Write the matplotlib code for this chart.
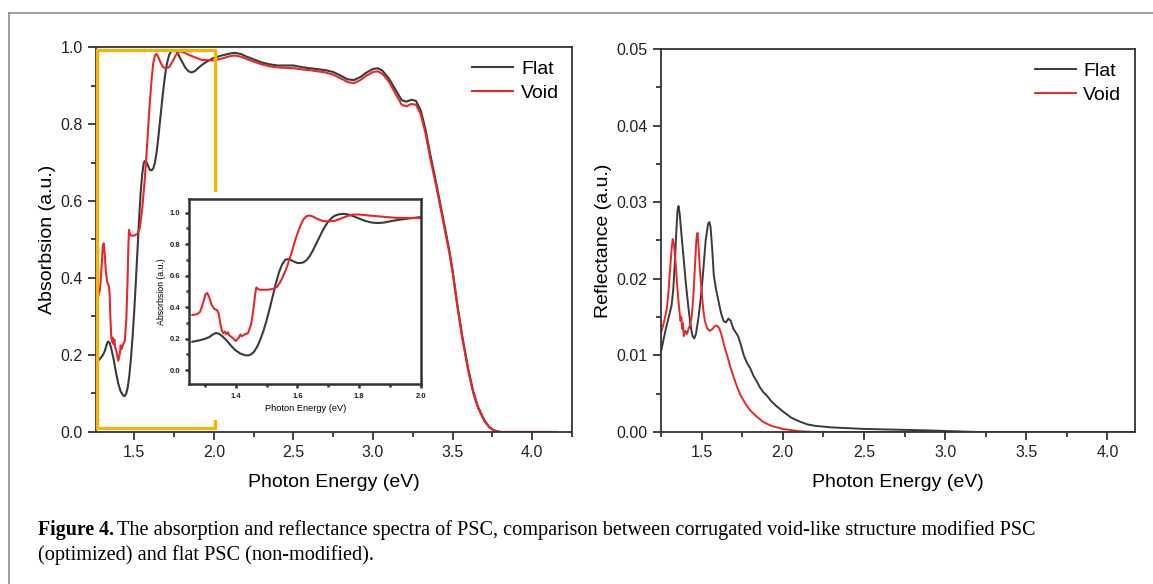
import matplotlib
matplotlib.use("Agg")
import matplotlib.pyplot as plt
from matplotlib.ticker import MultipleLocator
from matplotlib.patches import Rectangle
from matplotlib.lines import Line2D

plt.rcParams['font.family'] = ['Liberation Sans', 'DejaVu Sans']

# ---- 吸收谱 (Absorption) ----
abs_e_flat = [1.26, 1.28, 1.30, 1.315, 1.325, 1.335, 1.345, 1.355, 1.37, 1.385, 1.40, 1.415, 1.43,
              1.44, 1.45, 1.46, 1.47, 1.48, 1.49, 1.50, 1.51, 1.52, 1.53, 1.54, 1.55, 1.56, 1.57,
              1.58, 1.59, 1.60, 1.61, 1.62, 1.63, 1.64, 1.65, 1.66, 1.67, 1.68, 1.69, 1.70, 1.71,
              1.72, 1.735, 1.75, 1.765, 1.78, 1.80, 1.82, 1.84, 1.86, 1.88, 1.90, 1.93, 1.96, 2.0,
              2.05, 2.1, 2.13, 2.17, 2.2, 2.25, 2.3, 2.35, 2.4, 2.5, 2.55, 2.6, 2.7, 2.75, 2.8,
              2.84, 2.88, 2.92, 2.96, 3.0, 3.03, 3.06, 3.1, 3.14, 3.18, 3.21, 3.24, 3.27, 3.30,
              3.33, 3.36, 3.40, 3.45, 3.48, 3.5, 3.53, 3.56, 3.6, 3.63, 3.66, 3.7, 3.73, 3.76,
              3.8, 4.15]
abs_flat = [0.18, 0.188, 0.198, 0.21, 0.225, 0.235, 0.232, 0.218, 0.19, 0.155, 0.125, 0.105, 0.095,
            0.093, 0.1, 0.118, 0.15, 0.195, 0.25, 0.315, 0.39, 0.47, 0.55, 0.62, 0.67, 0.70, 0.705,
            0.698, 0.688, 0.68, 0.68, 0.685, 0.70, 0.725, 0.76, 0.80, 0.84, 0.88, 0.915, 0.945,
            0.965, 0.98, 0.99, 0.992, 0.988, 0.978, 0.962, 0.947, 0.937, 0.934, 0.937, 0.945,
            0.955, 0.963, 0.972, 0.978, 0.983, 0.985, 0.982, 0.976, 0.968, 0.96, 0.955, 0.952,
            0.952, 0.948, 0.945, 0.94, 0.935, 0.925, 0.916, 0.914, 0.922, 0.934, 0.943, 0.945,
            0.938, 0.918, 0.89, 0.862, 0.858, 0.863, 0.86, 0.835, 0.785, 0.72, 0.64, 0.535, 0.47,
            0.42, 0.33, 0.25, 0.16, 0.105, 0.065, 0.03, 0.013, 0.004, 0.0, 0.0]

abs_e_void = [1.26, 1.275, 1.285, 1.295, 1.302, 1.308, 1.315, 1.322, 1.33, 1.34, 1.345, 1.35, 1.355,
              1.36, 1.365, 1.37, 1.375, 1.38, 1.39, 1.40, 1.41, 1.415, 1.42, 1.43, 1.44, 1.45,
              1.457, 1.463, 1.467, 1.472, 1.48, 1.50, 1.52, 1.535, 1.55, 1.565, 1.58, 1.595, 1.61,
              1.62, 1.63, 1.64, 1.65, 1.665, 1.68, 1.70, 1.72, 1.74, 1.76, 1.78, 1.80, 1.83, 1.87,
              1.92, 2.0, 2.05, 2.1, 2.13, 2.17, 2.2, 2.25, 2.3, 2.35, 2.4, 2.5, 2.55, 2.6, 2.7,
              2.75, 2.8, 2.84, 2.88, 2.92, 2.96, 3.0, 3.03, 3.06, 3.1, 3.14, 3.18, 3.21, 3.24,
              3.27, 3.30, 3.33, 3.36, 3.40, 3.45, 3.48, 3.5, 3.53, 3.56, 3.6, 3.63, 3.66, 3.7,
              3.73, 3.76, 3.8, 4.15]
abs_void = [0.35, 0.355, 0.37, 0.43, 0.48, 0.49, 0.46, 0.415, 0.39, 0.38, 0.36, 0.30, 0.25, 0.235,
            0.245, 0.228, 0.24, 0.22, 0.205, 0.185, 0.205, 0.225, 0.215, 0.228, 0.235, 0.29, 0.38,
            0.48, 0.525, 0.515, 0.51, 0.51, 0.515, 0.53, 0.58, 0.65, 0.74, 0.84, 0.92, 0.96,
            0.978, 0.982, 0.975, 0.96, 0.948, 0.944, 0.948, 0.962, 0.978, 0.988, 0.988, 0.982,
            0.975, 0.967, 0.965, 0.97, 0.976, 0.978, 0.975, 0.97, 0.962, 0.955, 0.95, 0.947,
            0.945, 0.942, 0.94, 0.934, 0.928, 0.918, 0.909, 0.906, 0.914, 0.926, 0.935, 0.937,
            0.93, 0.91, 0.88, 0.85, 0.846, 0.852, 0.85, 0.825, 0.775, 0.71, 0.632, 0.527, 0.463,
            0.413, 0.325, 0.245, 0.155, 0.1, 0.062, 0.028, 0.012, 0.004, 0.0, 0.0]

# ---- 反射谱 (Reflectance) ----
ref_e_flat = [1.25, 1.26, 1.28, 1.30, 1.315, 1.325, 1.335, 1.345, 1.352, 1.358, 1.365, 1.375, 1.39,
              1.405, 1.42, 1.435, 1.445, 1.455, 1.465, 1.48, 1.495, 1.51, 1.525, 1.54, 1.548,
              1.555, 1.565, 1.575, 1.59, 1.605, 1.62, 1.635, 1.65, 1.665, 1.68, 1.695, 1.71, 1.725,
              1.74, 1.76, 1.78, 1.80, 1.82, 1.84, 1.86, 1.88, 1.90, 1.93, 1.96, 2.0, 2.05, 2.1,
              2.15, 2.2, 2.3, 2.4, 2.5, 2.7, 2.9, 3.05, 3.2]
ref_flat = [0.0105, 0.0115, 0.0135, 0.0152, 0.0165, 0.0185, 0.022, 0.0265, 0.029, 0.0295, 0.0285,
            0.026, 0.0225, 0.019, 0.016, 0.0135, 0.0125, 0.0122, 0.0128, 0.0148, 0.0175, 0.021,
            0.025, 0.0272, 0.0274, 0.0268, 0.024, 0.0205, 0.0185, 0.017, 0.0155, 0.0145, 0.0143,
            0.0148, 0.0145, 0.0135, 0.013, 0.0125, 0.0115, 0.010, 0.009, 0.0083, 0.0073, 0.0066,
            0.0058, 0.0052, 0.0048, 0.004, 0.0034, 0.0027, 0.0019, 0.0014, 0.001, 0.0008, 0.0006,
            0.0005, 0.0004, 0.0003, 0.0002, 0.0001, 0.0]

ref_e_void = [1.25, 1.27, 1.285, 1.295, 1.305, 1.315, 1.322, 1.33, 1.34, 1.35, 1.36, 1.37, 1.375,
              1.38, 1.385, 1.39, 1.40, 1.41, 1.42, 1.43, 1.44, 1.45, 1.46, 1.468, 1.475, 1.482,
              1.49, 1.50, 1.51, 1.52, 1.535, 1.55, 1.565, 1.58, 1.595, 1.61, 1.625, 1.64, 1.66,
              1.68, 1.70, 1.72, 1.74, 1.77, 1.80, 1.84, 1.88, 1.93, 2.0, 2.1, 2.2, 4.17]
ref_void = [0.0129, 0.0145, 0.016, 0.018, 0.021, 0.0238, 0.0252, 0.0245, 0.022, 0.019, 0.0165,
            0.0145, 0.015, 0.0135, 0.0142, 0.0125, 0.0132, 0.0128, 0.0135, 0.014, 0.0152, 0.018,
            0.022, 0.0252, 0.026, 0.024, 0.021, 0.0185, 0.016, 0.0145, 0.0135, 0.0132, 0.0134,
            0.0138, 0.0139, 0.0135, 0.0125, 0.0112, 0.0098, 0.0083, 0.007, 0.0058, 0.0048,
            0.0037, 0.0028, 0.002, 0.0013, 0.0008, 0.0004, 0.0001, 0.0, 0.0]

C_FLAT = "#3a3a3a"
C_VOID = "#e8262b"
C_AX = "#333333"

fig = plt.figure(figsize=(11.53, 5.84), dpi=100)


def style(ax, fs=11.5, lw=1.3, maj=6, mnr=3.5):
    for s in ax.spines.values():
        s.set_linewidth(lw)
        s.set_color(C_AX)
    ax.tick_params(which="both", direction="out", top=False, right=False,
                   color=C_AX, width=lw, labelsize=fs, labelcolor="#222222")
    ax.tick_params(which="major", length=maj)
    ax.tick_params(which="minor", length=mnr)


# 左图: 吸收
ax1 = fig.add_axes([0.0833, 0.2603, 0.4128, 0.6592])
ax1.plot(abs_e_flat, abs_flat, color=C_FLAT, lw=1.5, label="Flat")
ax1.plot(abs_e_void, abs_void, color=C_VOID, lw=1.5, label="Void")
ax1.set_xlim(1.26, 4.25)
ax1.set_ylim(0, 1.0)
ax1.xaxis.set_major_locator(MultipleLocator(0.5))
ax1.xaxis.set_minor_locator(MultipleLocator(0.25))
ax1.yaxis.set_major_locator(MultipleLocator(0.2))
ax1.yaxis.set_minor_locator(MultipleLocator(0.1))
style(ax1)
ax1.set_xlabel("Photon Energy (eV)", fontsize=14, labelpad=10)
ax1.set_ylabel("Absorbsion (a.u.)", fontsize=14, labelpad=3)
ax1.legend(loc="upper left", bbox_to_anchor=(0.769, 0.99), frameon=False, fontsize=14,
           borderpad=0, handlelength=2.1, handletextpad=0.45, labelspacing=0.32)
ax1.add_patch(Rectangle((1.265, 0.01), 2.005 - 1.265, 0.993 - 0.01, fill=False,
                        edgecolor="#f5b400", lw=2.3, zorder=4, clip_on=False))

# 插图背景 + 插图
fig.add_artist(Rectangle((165 / 1153, 1 - 420 / 584), 262 / 1153, 228 / 584,
                         transform=fig.transFigure, facecolor="white", edgecolor="none", zorder=1))
axi = fig.add_axes([0.1642, 0.3420, 0.2010, 0.3168], zorder=2)
axi.plot(abs_e_flat, abs_flat, color=C_FLAT, lw=1.5)
axi.plot(abs_e_void, abs_void, color=C_VOID, lw=1.5)
axi.set_xlim(1.25, 2.0)
axi.set_ylim(-0.09, 1.085)
axi.xaxis.set_major_locator(MultipleLocator(0.2))
axi.xaxis.set_minor_locator(MultipleLocator(0.1))
axi.yaxis.set_major_locator(MultipleLocator(0.2))
axi.yaxis.set_minor_locator(MultipleLocator(0.1))
style(axi, fs=5.5, lw=1.8, maj=3, mnr=2)
for lab in axi.get_xticklabels() + axi.get_yticklabels():
    lab.set_fontweight("bold")
axi.set_xlabel("Photon Energy (eV)", fontsize=6.7, labelpad=3)
axi.set_ylabel("Absorbsion (a.u.)", fontsize=6.3, labelpad=3)

# 右图: 反射
ax2 = fig.add_axes([0.5733, 0.2603, 0.4111, 0.6558])
ax2.plot(ref_e_flat, ref_flat, color=C_FLAT, lw=1.4, label="Flat")
ax2.plot(ref_e_void, ref_void, color=C_VOID, lw=1.4, label="Void")
ax2.set_xlim(1.25, 4.17)
ax2.set_ylim(0, 0.05)
ax2.xaxis.set_major_locator(MultipleLocator(0.5))
ax2.xaxis.set_minor_locator(MultipleLocator(0.25))
ax2.yaxis.set_major_locator(MultipleLocator(0.01))
ax2.yaxis.set_minor_locator(MultipleLocator(0.005))
style(ax2)
ax2.set_xlabel("Photon Energy (eV)", fontsize=14, labelpad=10)
ax2.set_ylabel("Reflectance (a.u.)", fontsize=14, labelpad=3)
ax2.legend(loc="upper left", bbox_to_anchor=(0.768, 0.99), frameon=False, fontsize=14,
           borderpad=0, handlelength=2.1, handletextpad=0.4, labelspacing=0.32)

# 外框 (页面边框)
fig.add_artist(Line2D([8.5 / 1153, 8.5 / 1153], [0, 1 - 12.5 / 584], transform=fig.transFigure,
                      color="#8a8a8a", lw=1.2))
fig.add_artist(Line2D([8.5 / 1153, 1], [1 - 12.5 / 584, 1 - 12.5 / 584], transform=fig.transFigure,
                      color="#8a8a8a", lw=1.2))

# 图注
cap_font = ['Liberation Serif', 'DejaVu Serif']
fig.text(38 / 1153, 1 - 530 / 584, "Figure 4.", family=cap_font, fontweight="bold",
         fontsize=14.3, va="center", ha="left")
fig.text(117 / 1153, 1 - 530 / 584,
         "The absorption and reflectance spectra of PSC, comparison between corrugated "
         "void-like structure modified PSC", family=cap_font, fontsize=14.6, va="center", ha="left")
fig.text(38 / 1153, 1 - 555 / 584, "(optimized) and flat PSC (non-modified).", family=cap_font,
         fontsize=14.6, va="center", ha="left")

fig.savefig("out.png", dpi=100)
